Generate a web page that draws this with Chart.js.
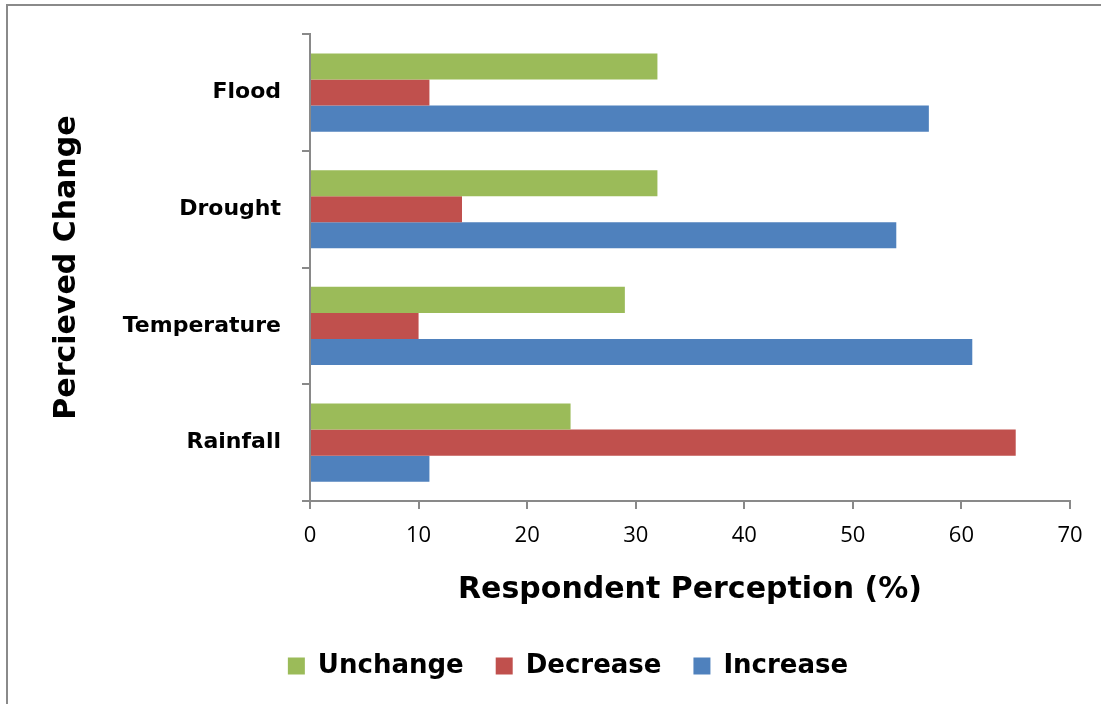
<!DOCTYPE html>
<html>
<head>
<meta charset="utf-8">
<script src="https://cdn.jsdelivr.net/npm/chart.js@4"></script>
<style>
  html, body { margin: 0; padding: 0; background: #fff; }
  #wrap { width: 1101px; height: 704px; position: relative; }
</style>
</head>
<body>
<div id="wrap"><canvas id="myChart" width="1101" height="704"></canvas></div>
<script>
var categories = ['Flood', 'Drought', 'Temperature', 'Rainfall'];
var unchange = [32, 32, 29, 24];
var decrease = [11, 14, 10, 65];
var increase = [57, 54, 61, 11];
var xTicks = [0, 10, 20, 30, 40, 50, 60, 70];

var axisGray = '#898989';

// thin frame on the top and left edges, like the original figure box
var framePlugin = {
  id: 'frame',
  beforeDraw: function (chart) {
    var c = chart.ctx;
    c.save();
    c.strokeStyle = '#8a8a8a';
    c.lineWidth = 2;
    c.beginPath();
    c.moveTo(7, 704);
    c.lineTo(7, 5);
    c.lineTo(1101, 5);
    c.stroke();
    c.restore();
  }
};

var ctx = document.getElementById('myChart').getContext('2d');
var myChart = new Chart(ctx, {
  type: 'bar',
  data: {
    labels: categories,
    datasets: [{
      label: 'Unchange',
      data: unchange,
      backgroundColor: '#9BBB59'
    },
    {
      label: 'Decrease',
      data: decrease,
      backgroundColor: '#C0504D'
    },
    {
      label: 'Increase',
      data: increase,
      backgroundColor: '#4F81BD'
    }]
  },
  plugins: [framePlugin],
  options: {
    responsive: false,
    animation: false,
    indexAxis: 'y',
    categoryPercentage: 0.67,
    barPercentage: 1.0,
    layout: {
      padding: { left: 66, right: 31, top: 34, bottom: 15 }
    },
    scales: {
      x: {
        min: 0,
        max: 70,
        afterBuildTicks: function (scale) {
          scale.ticks = xTicks.map(function (v) { return { value: v }; });
        },
        afterFit: function (scale) { scale.height = 120; },
        grid: {
          drawOnChartArea: false,
          drawTicks: true,
          tickLength: 8,
          color: axisGray,
          lineWidth: 2
        },
        border: { display: true, color: axisGray, width: 2 },
        ticks: {
          color: '#000',
          padding: 14,
          font: { family: 'Open Sans', size: 22 }
        },
        title: {
          display: true,
          text: 'Respondent Perception (%)',
          color: '#000',
          padding: { top: 0, bottom: 13 },
          font: { family: 'DejaVu Sans', size: 30, weight: 'bold' }
        }
      },
      y: {
        afterFit: function (scale) { scale.width = 244; },
        grid: {
          drawOnChartArea: false,
          drawTicks: true,
          tickLength: 8,
          color: axisGray,
          lineWidth: 2
        },
        border: { display: true, color: axisGray, width: 2 },
        ticks: {
          color: '#000',
          padding: 21,
          font: { family: 'DejaVu Sans', size: 22, weight: 'bold' }
        },
        title: {
          display: true,
          text: 'Percieved Change',
          color: '#000',
          padding: { top: -17, bottom: 0 },
          font: { family: 'DejaVu Sans', size: 30, weight: 'bold' }
        }
      }
    },
    plugins: {
      legend: {
        position: 'bottom',
        labels: {
          boxWidth: 17,
          boxHeight: 17,
          padding: 32,
          color: '#000',
          font: { family: 'DejaVu Sans', size: 26, weight: 'bold' }
        }
      },
      tooltip: { enabled: false }
    }
  }
});
</script>
</body>
</html>
